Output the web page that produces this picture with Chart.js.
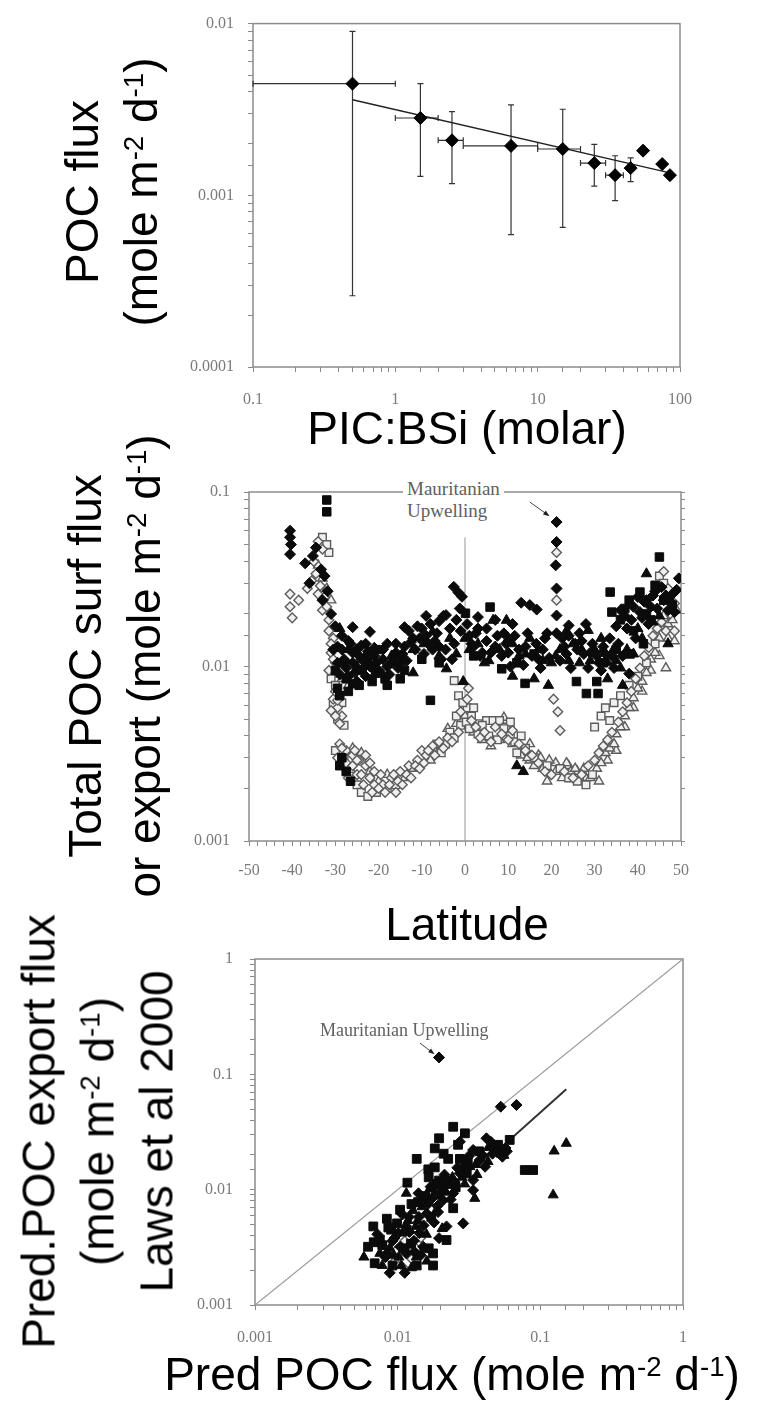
<!DOCTYPE html>
<html>
<head>
<meta charset="utf-8">
<script src="https://cdn.jsdelivr.net/npm/chart.js@4.4.1/dist/chart.umd.min.js"></script>
<style>
  html, body { margin:0; padding:0; background:#fff; }
  body { position:relative; width:771px; height:1412px; overflow:hidden; }
  canvas { position:absolute; }
  .t { position:absolute; font-family:'Liberation Sans', Arial, sans-serif; font-size:46px; color:#000; white-space:nowrap; line-height:46px; text-align:center; }
  .rot { position:absolute; font-family:'Liberation Sans', Arial, sans-serif; font-size:46px; color:#000; white-space:nowrap; line-height:59px; text-align:center; transform:rotate(-90deg); transform-origin:50% 50%; }
  sup { font-size:60%; line-height:0; position:relative; top:-0.5em; vertical-align:baseline; }
  .ann { position:absolute; font-family:'Liberation Serif', 'DejaVu Serif', serif; color:#606060; white-space:nowrap; }
</style>
</head>
<body>
<canvas id="c1" width="540" height="410" style="left:170px;top:0px"></canvas>
<canvas id="c2" width="540" height="450" style="left:170px;top:440px"></canvas>
<canvas id="c3" width="540" height="430" style="left:170px;top:930px"></canvas>

<div class="rot" style="left:-148px;top:133px;width:520px;height:118px;">POC flux<br>(mole m<sup>-2</sup> d<sup>-1</sup>)</div>
<div class="t" style="left:67px;top:405px;width:800px;">PIC:BSi (molar)</div>

<div class="rot" style="left:-145px;top:607px;width:520px;height:118px;">Total POC surf flux<br>or export (mole m<sup>-2</sup> d<sup>-1</sup>)</div>
<div class="t" style="left:67px;top:901px;width:800px;">Latitude</div>
<div class="ann" style="left:403px;top:478px;font-size:19px;line-height:22px;background:#fff;padding:0 4px;">Mauritanian<br>Upwelling</div>

<div class="rot" style="left:-162px;top:1043px;width:520px;height:177px;">Pred.POC export flux<br>(mole m<sup>-2</sup> d<sup>-1</sup>)<br>Laws et al 2000</div>
<div class="t" style="left:52px;top:1351px;width:800px;">Pred POC flux (mole m<sup>-2</sup> d<sup>-1</sup>)</div>
<div class="ann" style="left:320px;top:1019px;font-size:18px;line-height:22px;">Mauritanian Upwelling</div>

<script>
// ---------------- Panel 1 data ----------------
const p1X    = [0.5, 1.5, 2.5, 6.5, 15, 25, 35, 45, 55, 75, 85];
const p1Y    = [0.00447, 0.00282, 0.00209, 0.00194, 0.00186, 0.00154, 0.00131, 0.00144, 0.00182, 0.00152, 0.00131];
const p1YLo  = [0.00026, 0.00129, 0.00117, 0.00059, 0.00065, 0.00113, 0.00093, 0.00120, null, null, null];
const p1YHi  = [0.0090, 0.00447, 0.00307, 0.00336, 0.00317, 0.00198, 0.00170, 0.00165, null, null, null];
const p1XLo  = [0.1, 1, 2, 3, 10, 20, 30, null, null, null, null];
const p1XHi  = [1, 2, 3, 10, 20, 30, 40, null, null, null, null];
const p1FitX = [0.5, 85];
const p1FitY = [0.0036, 0.00135];
const p1XTicks = ['0.1', '1', '10', '100'];
const p1YTicks = ['0.0001', '0.001', '0.01'];

// ---------------- Panel 2 data (latitude, flux) ----------------
const p2FilledDiamond = [
  [-40.5,0.060],[-40.5,0.055],[-40.3,0.050],[-40.5,0.044],
  [-37,0.039],[-35.2,0.043],[-33.3,0.036],[-32.5,0.033],[-34.5,0.048],[-36,0.030],[-31.8,0.027],[-33,0.024],
  [-31,0.020],[-30,0.017],[-28.5,0.015],[-29.5,0.013],[-27,0.014],[-26,0.012],[-28,0.011],[-25,0.0125],
  [-24,0.011],[-23,0.0135],[-22,0.010],[-21,0.0115],[-20,0.0095],[-18,0.0135],[-19,0.011],[-17,0.0105],
  [-16,0.012],[-15,0.0115],[-14,0.013],[-13,0.016],[-12,0.0145],[-11,0.017],[-10,0.0165],[-9,0.015],
  [-8,0.0175],[-7,0.014],[-6,0.013],[-5,0.0195],[-4.4,0.0197],[-3,0.011],[-2.6,0.0286],[-1.5,0.0265],
  [-0.7,0.0251],[-1,0.016],[1,0.015],[2,0.013],[3,0.0165],[4,0.012],[5,0.014],[7,0.013],[9,0.0155],
  [10,0.012],[11,0.0175],[13,0.0232],[15,0.0225],[16.6,0.0212],[14,0.013],[17,0.011],[18,0.0125],
  [21.2,0.0673],[21.2,0.0517],[21,0.038],[21.2,0.028],[21.2,0.0196],[21.2,0.0155],
  [23,0.013],[24,0.015],[26,0.0125],[27,0.014],[29,0.012],[31,0.0105],[32,0.013],[34,0.0115],[35,0.017],
  [36,0.021],[37,0.0195],[38,0.0091],[39,0.022],[40,0.025],[41,0.019],[42,0.024],[43,0.022],[44,0.027],
  [46,0.024],[47,0.021],[48,0.026],[49.5,0.032],
  [-30.5,0.0125],[-29.5,0.0105],[-29,0.009],[-28.5,0.0125],[-27.5,0.0098],[-27,0.0088],[-26.5,0.0135],
  [-26,0.0105],[-25.5,0.0092],[-25,0.0082],[-24.5,0.0115],[-24,0.0132],[-23.5,0.0098],[-23,0.0088],
  [-22.5,0.0122],[-21.5,0.0098],[-21,0.0128],[-20.5,0.0105],[-19.5,0.0092],[-19,0.0125],[-18,0.0100],
  [-17.5,0.0090],[-16.5,0.0108],[-16,0.0135],[-15.5,0.0098],[-14.5,0.0118],[-13.5,0.0108],[-12.5,0.0138],
  [-11.5,0.0125],[-10.5,0.0145],[-9.5,0.0118],[-8.5,0.0135],[-7.5,0.0125],[-6.5,0.0155],[-5.5,0.0110],
  [-4.5,0.0125],[-3.5,0.0165],[-2.5,0.0135],[-2,0.0185],[-1.2,0.0215],[0.5,0.0175],[1.5,0.0135],[2.5,0.0155],
  [3.5,0.0115],[5,0.0165],[6,0.0120],[7.5,0.0150],[8.5,0.0115],[9.5,0.0135],[10.5,0.0100],[11.5,0.0150],
  [12.5,0.0125],[13.5,0.0102],[14.5,0.0155],[15.5,0.0115],[16.5,0.0135],[17.5,0.0098],[18.5,0.0145],
  [19.5,0.0112],[22,0.0108],[22.5,0.0145],[23.5,0.0118],[24.5,0.0098],[25.5,0.0135],[26.5,0.0155],
  [27.5,0.0118],[28.5,0.0098],[29.5,0.0135],[30.5,0.0115],[31.5,0.0095],[32.5,0.0118],[33.5,0.0145],
  [34.5,0.0098],[35.5,0.0135],[36.5,0.0115],[37.5,0.0165],[38.5,0.0185],[39.5,0.0145],[40.5,0.0205],
  [41.5,0.0235],[42.5,0.0175],[43.5,0.0255],[44.5,0.0215],[45.5,0.0285],[46.5,0.0255],[47.5,0.0235],
  [48.5,0.0205],[49,0.0275],
  [-26,0.0168],[-22,0.0158],[-14,0.0168],[-9,0.0195],[-6,0.0182],[3,0.0192],[7,0.0185],[19,0.0155],
  [24,0.0172],[28,0.0175]
];
const p2FilledSquare = [
  [-32,0.090],[-32,0.077],
  [-29.5,0.0075],[-27.5,0.0085],[-26,0.008],[-24,0.0095],[-30,0.0095],[-28,0.0105],[-22.5,0.0105],
  [-20.5,0.0125],[-18.5,0.0085],[-8,0.0064],[-14,0.0095],[-10,0.011],[-6,0.0105],
  [-28.5,0.0030],[-27.5,0.0025],[-26.5,0.0022],[-29,0.0027],
  [0.1,0.0202],[2,0.0115],[5.8,0.0219],[8.5,0.0097],[12,0.0105],[13.9,0.008],[16,0.0118],
  [25.8,0.0082],[28.1,0.0070],[30.5,0.0082],[30.8,0.0070],[32,0.0105],[33.6,0.0267],[35,0.0125],
  [37,0.0215],[38.2,0.0118],[39,0.016],[40.5,0.0267],[41.3,0.0135],[42,0.020],[44,0.0292],[45,0.0424],
  [46,0.024],[48,0.0225],[36,0.0185],[34,0.0205],[38,0.024],[43,0.0185],
  [-29,0.0068],[-27,0.0072],[-24.5,0.0078],[-21.5,0.0082],[-18,0.0078],[-15,0.0085]
];
const p2FilledTriangle = [
  [-29,0.0165],[-27,0.0125],[-25,0.010],[-23,0.0115],[-21,0.009],[-17,0.0115],[-15,0.0105],[-12,0.0125],
  [-9.5,0.0135],[-7.5,0.0158],[-6,0.0115],[-4.3,0.0097],[-3.5,0.0145],[-0.4,0.0082],[1,0.0125],[3,0.0135],
  [4.5,0.0105],[6.5,0.0184],[8,0.0125],[9.6,0.0184],[11,0.0135],[12.5,0.0115],[15,0.0145],[17,0.0125],
  [19.3,0.0078],[20,0.0105],[22,0.0125],[23.5,0.016],[25,0.0135],[26.5,0.0105],[28.5,0.0161],[30,0.0125],
  [31.5,0.0145],[33,0.0105],[34.3,0.0124],[36,0.0098],[37.5,0.0125],[40,0.0165],[42,0.034],[43.5,0.018],
  [45,0.0195],[47,0.0135],[12,0.0027],[13.5,0.0025],
  [-2,0.0118],[0,0.0145],[5.5,0.0108],[10,0.0145],[14,0.0118],[18,0.0108],[21,0.0115],[24,0.0108],
  [27,0.0125],[29,0.0108],[32,0.0125],[35,0.0108],[39,0.0118],[41,0.0145],
  [-12,0.0092],[11,0.0088],[16,0.0085],[33,0.0085],[36.5,0.0078]
];
const p2OpenDiamond = [
  [-40.5,0.026],[-40.5,0.022],[-40,0.019],[-38.5,0.024],[-36.5,0.028],[-35.5,0.031],[-34,0.026],[-33,0.021],
  [-34,0.052],[-33,0.047],[-31.5,0.0185],[-30.5,0.0145],[-31,0.012],[-30,0.0105],
  [-30.5,0.0065],[-29.5,0.0058],[-28.5,0.0052],
  [-29,0.0036],[-27.5,0.0033],[-26,0.0031],[-24.5,0.0029],[-23,0.0027],[-25,0.0024],[-22,0.0023],[-21,0.0021],
  [-19,0.0021],[-17,0.0023],[-15,0.0025],[-13,0.0027],[-11,0.0029],[-10,0.0033],[-9,0.0031],[-7.5,0.0035],
  [-6,0.0037],[-5,0.0034],[-4,0.0039],[-3,0.0037],[-1.5,0.0042],[-1,0.0055],[0.5,0.0065],[0.8,0.0075],
  [1.5,0.0049],[2.5,0.0045],[3.5,0.0039],[4.5,0.0042],[6,0.0037],[7,0.0045],[8.5,0.0041],[10,0.0038],
  [11,0.0043],[12.5,0.0036],[14,0.0033],[15.5,0.0031],[17,0.0028],[18.5,0.0025],[20,0.0024],[20.5,0.0065],
  [21.5,0.0055],[22,0.0043],[21.2,0.045],[21.2,0.024],[23,0.0025],[25,0.0023],[27,0.0024],[28.5,0.0027],
  [30,0.0029],[31,0.0032],[32,0.0035],[33,0.0038],[34,0.0042],[35.5,0.0048],[36.5,0.0055],[37.5,0.0062],
  [38.5,0.0072],[39.5,0.0085],[40.5,0.0098],[41.5,0.0115],[42.5,0.0128],[43.5,0.015],[44.5,0.0165],
  [45.5,0.018],[46.5,0.016],[47.5,0.020],[48.5,0.023],[46,0.035],[47,0.028],[48.5,0.016],
  [-35,0.040],[-34.5,0.034],[-33.5,0.029],[-32.5,0.025],[-32,0.022],[-31.5,0.016],[-31,0.0135],[-30.5,0.011],
  [-31.5,0.0095],[-30,0.0072],[-29.5,0.0064],[-31,0.0056],[-29,0.0047],[-30,0.0052],
  [-29.5,0.0030],[-28.5,0.0034],[-27.5,0.0028],[-27,0.0023],[-26,0.0027],[-25.5,0.0033],[-25,0.0029],
  [-24,0.0024],[-23.5,0.0021],[-23,0.0031],[-22,0.0028],[-21.5,0.0019],[-21,0.0025],[-20,0.0020],
  [-19.5,0.0024],[-18.5,0.0019],[-17.5,0.0021],[-16.5,0.0024],[-16,0.0019],[-15.5,0.0022],[-14.5,0.0021],
  [-13.5,0.0024],[-12.5,0.0023],[-11.5,0.0027],[-10.5,0.0026],[-9.5,0.0028],[-8.5,0.0033],[-7,0.0031]
];
const p2OpenSquare = [
  [-33,0.055],[-32,0.050],[-31.5,0.045],
  [-31,0.0085],[-30,0.0078],[-29,0.0068],[-30.5,0.006],[-28.5,0.0062],[-29.5,0.0050],[-28,0.0046],
  [-30,0.0033],[-28,0.0030],[-26.5,0.0026],[-25,0.0021],[-24,0.0019],[-22.5,0.0018],[-20.5,0.0019],
  [-18,0.0020],[-16,0.0021],
  [-2.5,0.0083],[-1.5,0.0068],[0.5,0.0058],[1.5,0.0052],[3,0.0047],[5,0.0049],[6.5,0.0049],[8,0.0049],
  [9.5,0.0045],[10.5,0.0048],
  [14,0.0034],[16,0.0030],[19,0.0027],[22,0.0026],[24,0.0023],[26,0.0022],[28,0.0021],[29.5,0.0024],
  [30,0.0045],[31.5,0.0052],[32.5,0.0058],[33.5,0.0049],[34.5,0.0062],[36,0.0068],[38,0.0078],[40,0.0088],
  [42,0.0105],[44,0.0135],[45,0.033],[46,0.030],[47.5,0.025],
  [-6.5,0.0036],[-5.5,0.0032],[-4.5,0.0036],[-3.5,0.0042],[-2.5,0.0039],[-2,0.0052],[-1,0.0046],
  [-0.5,0.0062],[0.3,0.0048],[1,0.0044],[2,0.0058],[3,0.0041],[4,0.0046],[5.5,0.0040],[7.5,0.0038],
  [9,0.0044],[10.5,0.0040],[11.5,0.0037],[12,0.0032],[13,0.0040]
];
const p2OpenTriangle = [
  [-34,0.038],[-33,0.032],[-32,0.028],[-31,0.024],[-30,0.009],[-28.5,0.0085],[-27,0.0078],
  [-26,0.0034],[-24,0.0032],[-22,0.0025],[-20,0.0022],[-18,0.0024],[-14,0.0023],[-12,0.0026],[-8,0.0029],
  [-6,0.0033],[-4,0.0044],[-2,0.0047],[0,0.0052],[2,0.0042],[4,0.0038],[6,0.0035],[8,0.0038],[9,0.0051],
  [11,0.0036],[13,0.0031],[15,0.0029],[17,0.0031],[19,0.0022],[21,0.0028],[24,0.0027],[26,0.0025],
  [28,0.0023],[31,0.0022],[33,0.0029],[35,0.0033],[37,0.0045],[39,0.0058],[41,0.0072],[43,0.0095],
  [45,0.0115],[47,0.0145],[48.5,0.014],[46.5,0.0098],
  [14.5,0.0030],[15,0.0036],[16,0.0027],[17.5,0.0030],[18,0.0026],[19.5,0.0029],[21,0.0025],[22.5,0.0023],
  [23.5,0.0028],[24.5,0.0025],[25.5,0.0026],[26.5,0.0023],[27.5,0.0026],[29,0.0023],[30.5,0.0026],
  [31.5,0.0028],[32.5,0.0032],[33.5,0.0034],[34.5,0.0036],[35,0.0041],[36,0.0045],[37,0.0052],[38,0.0058],
  [39,0.0066],[40,0.0075],[41,0.0082],[42,0.0092],[43,0.011],[44,0.012],[45,0.0145],[46,0.0195],[47,0.0175],
  [48,0.0185],[49,0.021]
];
const p2ZeroLine = [[0, 0.001], [0, 0.055]];
const p2Arrow = [[15.0, 0.0876], [19.2, 0.0738]];
const p2XTicks = ['-50','-40','-30','-20','-10','0','10','20','30','40','50'];
const p2YTicks = ['0.001', '0.01', '0.1'];

// ---------------- Panel 3 data (pred, Laws) ----------------
const p3Diamond = [
  [0.0195,0.14],[0.0528,0.0524],[0.068,0.0542],[0.0273,0.026],[0.0419,0.0279],[0.0466,0.0236],[0.0533,0.0214],
  [0.0542,0.0193],[0.0377,0.0181],[0.041,0.0158],[0.0338,0.0121],[0.0338,0.0099],[0.0288,0.0051],[0.022,0.0048],
  [0.0245,0.0093],[0.022,0.0121],[0.0273,0.0139],[0.0338,0.0221],[0.045,0.026],[0.05,0.021],[0.057,0.023],
  [0.017,0.0106],[0.014,0.0093],[0.0115,0.0048],[0.0104,0.0032],[0.0088,0.0019],[0.0151,0.0032],[0.0142,0.0042],
  [0.0208,0.0081],[0.016,0.0062],[0.0115,0.0028],[0.0084,0.0028],[0.0095,0.0038],[0.013,0.0036],[0.018,0.0052],
  [0.012,0.0058],[0.019,0.0072],[0.025,0.0117],
  [0.0072,0.0041],[0.0082,0.0026],[0.0092,0.0036],[0.0101,0.0042],[0.0108,0.0061],[0.0121,0.0043],
  [0.0131,0.0029],[0.0141,0.0058],[0.0152,0.0049],[0.0163,0.0075],[0.0176,0.0085],[0.0192,0.0064],
  [0.0213,0.0135],[0.0235,0.0082],[0.0262,0.0155],[0.0315,0.0195],[0.0395,0.0198],[0.0462,0.0205],
  [0.0582,0.0215],[0.0112,0.0019],[0.0145,0.0027],[0.0195,0.0038]
];
const p3Square = [
  [0.0245,0.0351],[0.0195,0.0279],[0.0296,0.0308],[0.0136,0.0185],[0.0182,0.0228],[0.0226,0.0185],[0.0273,0.0185],
  [0.0164,0.015],[0.0182,0.0156],[0.0117,0.0115],[0.061,0.027],[0.0778,0.0148],[0.089,0.0148],[0.022,0.00366],
  [0.0177,0.0028],[0.0062,0.0032],[0.00675,0.0048],[0.0084,0.0056],[0.0104,0.0067],[0.0177,0.0022],[0.0136,0.0022],
  [0.0069,0.0023],[0.0245,0.0069],[0.015,0.0085],[0.0195,0.012],[0.0265,0.0245],[0.021,0.0205],[0.0295,0.0155],
  [0.009,0.0045],[0.0075,0.0037],[0.0125,0.0075],[0.0165,0.0128],[0.031,0.0175],
  [0.0078,0.0033],[0.0086,0.0047],[0.0099,0.0051],[0.0112,0.0031],[0.0124,0.0034],[0.0139,0.0078],
  [0.0156,0.0088],[0.0172,0.0058],[0.0188,0.0112],[0.0205,0.0105],[0.0228,0.0112],[0.0255,0.0105],
  [0.0305,0.0138],[0.0372,0.0215],[0.0505,0.0245],[0.0092,0.0022],[0.0068,0.0035],[0.0165,0.0031]
];
const p3Triangle = [
  [0.125,0.0216],[0.152,0.0252],[0.123,0.009],[0.0347,0.0084],[0.0321,0.0158],[0.0115,0.0093],[0.0088,0.0031],
  [0.0102,0.0026],[0.0135,0.0026],[0.016,0.0024],[0.0078,0.0022],[0.0058,0.0026],[0.0215,0.0098],[0.0295,0.0112],
  [0.0185,0.0065],[0.0138,0.0054],[0.0108,0.0042],[0.036,0.0135],[0.043,0.0175],[0.0555,0.0198],
  [0.0094,0.0027],[0.0106,0.0022],[0.0118,0.0054],[0.0128,0.0066],[0.0134,0.0048],[0.0148,0.0071],
  [0.0159,0.0041],[0.0168,0.0102],[0.0183,0.0095],[0.0198,0.0088],[0.0218,0.0095],[0.0242,0.0128],
  [0.0282,0.0128],[0.0352,0.0165],[0.0432,0.0232],[0.0075,0.0028],[0.0125,0.0021],[0.0205,0.0046]
];
const p3Open = [
  [0.0095,0.0024],[0.011,0.0021],[0.0125,0.0025],[0.0098,0.0030],[0.0135,0.0031],[0.0112,0.0036],[0.0145,0.0038],[0.0088,0.0034]
];
const p3FitLine = [[0.045, 0.0193], [0.152, 0.0741]];
const p3OneToOne = [[0.001, 0.001], [1, 1]];
const p3Arrow = [[0.0143, 0.187], [0.0177, 0.153]];
const p3Ticks = ['0.001', '0.01', '0.1', '1'];

// ---------------- helpers ----------------
const toXY = arr => arr.map(p => ({x: p[0], y: p[1]}));
const TICK_FONT = {family: "'Liberation Serif', 'DejaVu Serif', serif", size: 16};
const TICK_COLOR = '#7a7a7a';
const GRID_COLOR = '#8a8a8a';

function decadeLabels(labels, minExp) {
  return function (value) {
    const e = Math.log10(value);
    const r = Math.round(e);
    if (Math.abs(e - r) > 1e-6) return '';
    const s = labels[r - minExp];
    return s === undefined ? '' : s;
  };
}

function logAxis(min, max, labels, minExp, fitSize, isX, pad) {
  return {
    type: 'logarithmic', min: min, max: max,
    afterFit: s => { if (isX) s.height = fitSize; else s.width = fitSize; },
    grid: {drawOnChartArea: false, drawTicks: true, tickLength: 5, color: GRID_COLOR, lineWidth: 1},
    border: {display: false},
    ticks: {autoSkip: false, maxRotation: 0, minRotation: 0, padding: pad, font: TICK_FONT, color: TICK_COLOR,
            callback: decadeLabels(labels, minExp)}
  };
}

const framePlugin = {
  id: 'frame',
  beforeDatasetsDraw(chart) {
    const a = chart.chartArea, ctx = chart.ctx;
    ctx.save();
    ctx.strokeStyle = '#8c8c8c';
    ctx.lineWidth = 1.5;
    ctx.strokeRect(a.left, a.top, a.right - a.left, a.bottom - a.top);
    ctx.restore();
  }
};

const errorBarPlugin = {
  id: 'errbars',
  beforeDatasetsDraw(chart) {
    const xs = chart.scales.x, ys = chart.scales.y, ctx = chart.ctx, a = chart.chartArea;
    ctx.save();
    ctx.beginPath();
    ctx.rect(a.left - 1, a.top - 1, a.right - a.left + 2, a.bottom - a.top + 2);
    ctx.clip();
    ctx.strokeStyle = '#333';
    ctx.lineWidth = 1.2;
    const cap = 3;
    for (let i = 0; i < p1X.length; i++) {
      const px = xs.getPixelForValue(p1X[i]);
      const py = ys.getPixelForValue(p1Y[i]);
      if (p1YLo[i] !== null) {
        const y1 = ys.getPixelForValue(p1YLo[i]), y2 = ys.getPixelForValue(p1YHi[i]);
        ctx.beginPath();
        ctx.moveTo(px, y1); ctx.lineTo(px, y2);
        ctx.moveTo(px - cap, y1); ctx.lineTo(px + cap, y1);
        ctx.moveTo(px - cap, y2); ctx.lineTo(px + cap, y2);
        ctx.stroke();
      }
      if (p1XLo[i] !== null) {
        const x1 = xs.getPixelForValue(p1XLo[i]), x2 = xs.getPixelForValue(p1XHi[i]);
        ctx.beginPath();
        ctx.moveTo(x1, py); ctx.lineTo(x2, py);
        ctx.moveTo(x1, py - cap); ctx.lineTo(x1, py + cap);
        ctx.moveTo(x2, py - cap); ctx.lineTo(x2, py + cap);
        ctx.stroke();
      }
    }
    ctx.restore();
  }
};

function arrowPlugin(pts) {
  return {
    id: 'arrow',
    afterDatasetsDraw(chart) {
      const xs = chart.scales.x, ys = chart.scales.y, ctx = chart.ctx;
      const x1 = xs.getPixelForValue(pts[0][0]), y1 = ys.getPixelForValue(pts[0][1]);
      const x2 = xs.getPixelForValue(pts[1][0]), y2 = ys.getPixelForValue(pts[1][1]);
      const ang = Math.atan2(y2 - y1, x2 - x1);
      ctx.save();
      ctx.strokeStyle = '#444'; ctx.fillStyle = '#222'; ctx.lineWidth = 1;
      ctx.beginPath(); ctx.moveTo(x1, y1); ctx.lineTo(x2, y2); ctx.stroke();
      ctx.beginPath();
      ctx.moveTo(x2 + Math.cos(ang) * 2, y2 + Math.sin(ang) * 2);
      ctx.lineTo(x2 - Math.cos(ang - 0.5) * 5, y2 - Math.sin(ang - 0.5) * 5);
      ctx.lineTo(x2 - Math.cos(ang + 0.5) * 5, y2 - Math.sin(ang + 0.5) * 5);
      ctx.closePath(); ctx.fill();
      ctx.restore();
    }
  };
}

const baseOpts = {
  responsive: false, animation: false, devicePixelRatio: 1,
  plugins: {legend: {display: false}, tooltip: {enabled: false}},
  events: []
};

function filled(data, style, r) {
  return {data: toXY(data), pointStyle: style, pointRadius: r, backgroundColor: '#0b0b0b', borderColor: '#0b0b0b', borderWidth: 1, showLine: false};
}
function openM(data, style, r) {
  return {data: toXY(data), pointStyle: style, pointRadius: r, backgroundColor: '#f0f0f0', borderColor: '#5c5c5c', borderWidth: 1.4, showLine: false};
}
function lineDs(data, color, w) {
  return {data: toXY(data), showLine: true, pointRadius: 0, borderColor: color, borderWidth: w, fill: false};
}

// ---------------- Panel 1 ----------------
new Chart(document.getElementById('c1'), {
  type: 'scatter',
  data: {datasets: [
    {data: p1X.map((x, i) => ({x: x, y: p1Y[i]})), pointStyle: 'rectRot', pointRadius: 6.5,
     backgroundColor: '#000', borderColor: '#000', borderWidth: 1, showLine: false},
    lineDs(p1FitX.map((x, i) => [x, p1FitY[i]]), '#222', 1.4)
  ]},
  options: Object.assign({}, baseOpts, {
    layout: {padding: {left: 0, right: 22, top: 17, bottom: 0}},
    scales: {
      x: logAxis(0.1, 100, p1XTicks, -1, 43, true, 18),
      y: logAxis(0.0001, 0.01, p1YTicks, -4, 83, false, 14)
    }
  }),
  plugins: [framePlugin, errorBarPlugin]
});

// ---------------- Panel 2 ----------------
const p2y2 = logAxis(0.001, 0.1, p2YTicks, -3, 4, false, 0);
p2y2.position = 'right';
p2y2.ticks.display = false;
p2y2.grid.tickLength = 4;

new Chart(document.getElementById('c2'), {
  type: 'scatter',
  data: {datasets: [
    filled(p2FilledDiamond, 'rectRot', 5.5),
    filled(p2FilledSquare, 'rect', 6),
    filled(p2FilledTriangle, 'triangle', 6),
    openM(p2OpenDiamond, 'rectRot', 4.8),
    openM(p2OpenSquare, 'rect', 5.4),
    openM(p2OpenTriangle, 'triangle', 5.4),
    lineDs(p2ZeroLine, '#9a9a9a', 1)
  ]},
  options: Object.assign({}, baseOpts, {
    layout: {padding: {left: 0, right: 25, top: 52, bottom: 0}},
    scales: {
      x: {
        type: 'linear', min: -50, max: 50,
        afterFit: s => { s.height = 49; },
        grid: {drawOnChartArea: false, drawTicks: true, tickLength: 5, color: GRID_COLOR},
        border: {display: false},
        ticks: {stepSize: 2, autoSkip: false, maxRotation: 0, minRotation: 0, padding: 15, font: TICK_FONT, color: TICK_COLOR,
                callback: v => (Math.round(v) % 10 === 0 ? p2XTicks[(Math.round(v) + 50) / 10] : '')}
      },
      y: logAxis(0.001, 0.1, p2YTicks, -3, 79, false, 14),
      y2: p2y2
    }
  }),
  plugins: [framePlugin, arrowPlugin(p2Arrow)]
});

// ---------------- Panel 3 ----------------
new Chart(document.getElementById('c3'), {
  type: 'scatter',
  data: {datasets: [
    filled(p3Diamond, 'rectRot', 5.5),
    filled(p3Square, 'rect', 6.2),
    filled(p3Triangle, 'triangle', 5.8),
    openM(p3Open, 'rectRot', 4.5),
    lineDs(p3FitLine, '#333', 2),
    lineDs(p3OneToOne, '#9a9a9a', 1.2)
  ]},
  options: Object.assign({}, baseOpts, {
    layout: {padding: {left: 0, right: 27, top: 29, bottom: 0}},
    scales: {
      x: logAxis(0.001, 1, p3Ticks, -3, 55, true, 18),
      y: logAxis(0.001, 1, p3Ticks, -3, 85, false, 17)
    }
  }),
  plugins: [framePlugin, arrowPlugin(p3Arrow)]
});
</script>
</body>
</html>
